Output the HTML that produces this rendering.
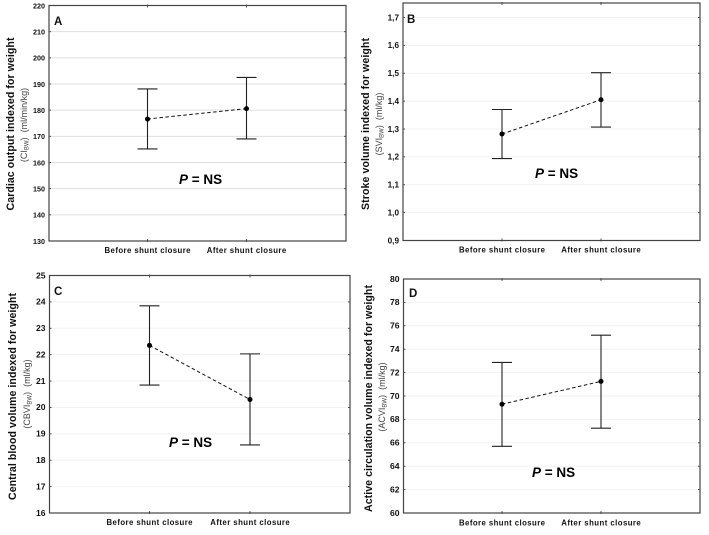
<!DOCTYPE html>
<html lang="en">
<head>
<meta charset="utf-8">
<title>Indexed haemodynamics before and after shunt closure</title>
<style>
  html, body { margin: 0; padding: 0; background: #fff; width: 709px; height: 535px; overflow: hidden; }
  svg { display: block; filter: blur(0.35px); font-family: "Liberation Sans", sans-serif; }
</style>
</head>
<body>
<svg id="figure" xmlns="http://www.w3.org/2000/svg" width="709" height="535" viewBox="0 0 709 535"></svg>
<script>
const categories = ['Before shunt closure', 'After shunt closure'];

const ticksA = [130, 140, 150, 160, 170, 180, 190, 200, 210, 220];
const meansA = [176.6, 180.6];
const lowerA = [165.2, 169.0];
const upperA = [188.1, 192.5];

const ticksB = [0.9, 1.0, 1.1, 1.2, 1.3, 1.4, 1.5, 1.6, 1.7];
const tickLabelsB = ['0,9', '1,0', '1,1', '1,2', '1,3', '1,4', '1,5', '1,6', '1,7'];
const meansB = [1.282, 1.405];
const lowerB = [1.194, 1.307];
const upperB = [1.370, 1.502];

const ticksC = [16, 17, 18, 19, 20, 21, 22, 23, 24, 25];
const meansC = [22.35, 20.30];
const lowerC = [20.85, 18.58];
const upperC = [23.85, 22.03];

const ticksD = [60, 62, 64, 66, 68, 70, 72, 74, 76, 78, 80];
const meansD = [69.3, 71.25];
const lowerD = [65.7, 67.25];
const upperD = [72.87, 75.2];

const NS = 'http://www.w3.org/2000/svg';
const root = document.getElementById('figure');

function make(tag, parent, attrs, text) {
  const el = document.createElementNS(NS, tag);
  for (const k in attrs) el.setAttribute(k, attrs[k]);
  if (text !== undefined) el.textContent = text;
  parent.appendChild(el);
  return el;
}

function drawPanel(p) {
  const g = make('g', root, {});
  
  

  const y = v => p.yBase + (v - p.ticks[0]) * (p.yTick - p.yBase) / (p.tickTop - p.ticks[0]);
  const x = i => p.xFirst + i * (p.xSecond - p.xFirst);

  // gridlines, y ticks, tick labels
  p.ticks.forEach((t, i) => {
    const py = y(t);
    if (i > 0 && py > p.top + 1) {
      const grid = make('line', g, { x1: p.left, x2: p.right, y1: py, y2: py, stroke: p.gridColor, 'stroke-width': 1 });
      
      
    }
    const tl = make('line', g, { x1: p.left, x2: p.left + 2, y1: py, y2: py, stroke: '#444', 'stroke-width': 0.9 });
    
    
    const tr = make('line', g, { x1: p.right - 2, x2: p.right, y1: py, y2: py, stroke: '#444', 'stroke-width': 0.9 });
    
    
    const label = p.tickLabels ? p.tickLabels[i] : String(t);
    const lab = make('text', g, { x: p.left - 4, y: py + 2.8, 'text-anchor': 'end', 'font-size': p.tickFont, 'font-weight': 'bold', fill: '#111' }, label);
    
    
  });

  // plot frame
  const frame = make('rect', g, { x: p.left, y: p.top, width: p.right - p.left, height: p.bottom - p.top, fill: 'none', stroke: '#444', 'stroke-width': 1.2 });
  
  

  // x ticks + category labels
  categories.forEach((c, i) => {
    const tb = make('line', g, { x1: x(i), x2: x(i), y1: p.bottom - 2, y2: p.bottom + 1, stroke: '#444', 'stroke-width': 0.9 });
    
    
    const tt = make('line', g, { x1: x(i), x2: x(i), y1: p.top - 1, y2: p.top + 2, stroke: '#444', 'stroke-width': 0.9 });
    
    
    const cl = make('text', g, { x: x(i), y: p.catY, 'text-anchor': 'middle', 'font-size': 7.8, 'font-weight': 'bold', fill: '#111', textLength: i === 0 ? 86 : 79.5, lengthAdjust: 'spacing' }, c);
    
    
  });

  // dashed connecting line
  const conn = make('line', g, { x1: x(0), y1: y(p.means[0]), x2: x(1), y2: y(p.means[1]), stroke: '#111', 'stroke-width': 1, 'stroke-dasharray': '3.5 2.5' });
  
  

  // whiskers + means
  p.means.forEach((m, i) => {
    const stem = make('line', g, { x1: x(i), x2: x(i), y1: y(p.upper[i]), y2: y(p.lower[i]), stroke: '#222', 'stroke-width': 1.1 });
    
    
    const capU = make('line', g, { x1: x(i) - 10, x2: x(i) + 10, y1: y(p.upper[i]), y2: y(p.upper[i]), stroke: '#222', 'stroke-width': 1.1 });
    
    
    const capL = make('line', g, { x1: x(i) - 10, x2: x(i) + 10, y1: y(p.lower[i]), y2: y(p.lower[i]), stroke: '#222', 'stroke-width': 1.1 });
    
    
    const dot = make('circle', g, { cx: x(i), cy: y(m), r: 2.5, fill: '#000' });
    
    
  });

  // panel letter
  const letter = make('text', g, { x: p.letterX, y: p.letterY, 'font-size': 11.5, 'font-weight': 'bold', fill: '#111' }, p.letter);
  
  

  // P = NS annotation
  const ann = make('text', g, { x: p.pX, y: p.pY, 'font-size': 13.5, 'font-weight': 'bold', fill: '#000' });
  
  
  make('tspan', ann, { 'font-style': 'italic' }, 'P');
  make('tspan', ann, {}, ' = NS');

  // y axis title
  const title = make('text', g, { transform: 'translate(' + p.titleX + ',' + p.titleCy + ') rotate(-90)', 'text-anchor': 'middle', 'font-size': 10.6, 'font-weight': 'bold', fill: '#111', textLength: p.titleLen, lengthAdjust: 'spacing' }, p.title);
  
  

  // y axis subtitle
  const sub = make('text', g, { transform: 'translate(' + p.subX + ',' + p.subCy + ') rotate(-90)', 'text-anchor': 'middle', 'font-size': 9, fill: '#444' });
  
  
  make('tspan', sub, {}, '(' + p.abbr);
  make('tspan', sub, { 'font-size': 6, dy: 1.5 }, 'BW');
  make('tspan', sub, { dy: -1.5 }, ')\u00A0\u00A0' + p.unit);
}

drawPanel({
  letter: 'A', left: 49, right: 346, top: 5.5, bottom: 241,
  ticks: ticksA, means: meansA, lower: lowerA, upper: upperA,
  yBase: 241, yTick: 5.5, tickTop: 220, xFirst: 147.5, xSecond: 246.5,
  tickFont: 7.2, gridColor: '#dfdfdf', catY: 253,
  letterX: 54, letterY: 25, pX: 179, pY: 184,
  title: 'Cardiac output indexed for weight', titleX: 14, titleCy: 124, titleLen: 173,
  abbr: 'CI', unit: '(ml/min/kg)', subX: 27, subCy: 125
});

drawPanel({
  letter: 'B', left: 403, right: 700, top: 3, bottom: 240.5,
  ticks: ticksB, tickLabels: tickLabelsB, means: meansB, lower: lowerB, upper: upperB,
  yBase: 240.5, yTick: 17.5, tickTop: 1.7, xFirst: 502, xSecond: 601,
  tickFont: 8.2, gridColor: '#f2f2f2', catY: 252.5,
  letterX: 407, letterY: 23, pX: 535, pY: 178,
  title: 'Stroke volume indexed for weight', titleX: 369, titleCy: 124, titleLen: 172,
  abbr: 'SVI', unit: '(ml/kg)', subX: 382, subCy: 124
});

drawPanel({
  letter: 'C', left: 49.5, right: 350, top: 275.5, bottom: 513,
  ticks: ticksC, means: meansC, lower: lowerC, upper: upperC,
  yBase: 513, yTick: 275.5, tickTop: 25, xFirst: 149.5, xSecond: 250,
  tickFont: 8.6, gridColor: '#f2f2f2', catY: 525,
  letterX: 54, letterY: 295, pX: 169, pY: 447,
  title: 'Central blood volume indexed for weight', titleX: 16, titleCy: 396.5, titleLen: 207,
  abbr: 'CBVI', unit: '(ml/kg)', subX: 30, subCy: 394
});

drawPanel({
  letter: 'D', left: 403.5, right: 700, top: 279, bottom: 513,
  ticks: ticksD, means: meansD, lower: lowerD, upper: upperD,
  yBase: 513, yTick: 279, tickTop: 80, xFirst: 502, xSecond: 601,
  tickFont: 8.6, gridColor: '#f2f2f2', catY: 525.5,
  letterX: 409, letterY: 297, pX: 532, pY: 477,
  title: 'Active circulation volume indexed for weight', titleX: 372, titleCy: 398.5, titleLen: 227,
  abbr: 'ACVI', unit: '(ml/kg)', subX: 385, subCy: 397
});
</script>
</body>
</html>
